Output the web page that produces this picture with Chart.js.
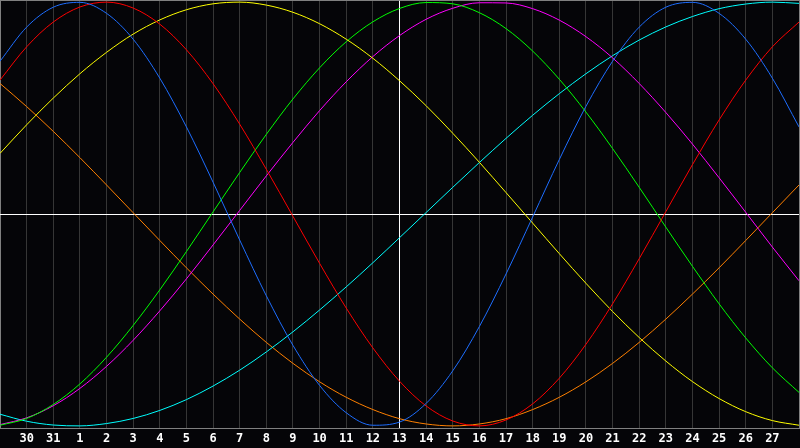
<!DOCTYPE html>
<html>
<head>
<meta charset="utf-8">
<script src="https://cdn.jsdelivr.net/npm/chart.js@4"></script>
<style>
  html, body { margin: 0; padding: 0; background: #050508; }
  #c { display: block; }
</style>
</head>
<body>
<canvas id="c" width="800" height="448"></canvas>
<script>
// Day labels (index 0 = 29th of previous month, index 30 = 28th)
const dayLabels = ["29","30","31","1","2","3","4","5","6","7","8","9","10","11","12","13",
  "14","15","16","17","18","19","20","21","22","23","24","25","26","27","28"];
const todayIndex = 15;

// Series values (percent, -100..100), one per day
const physical = [72.1,88.2,97.6,99.9,94.7,82.5,64.1,41.1,15.0,-12.3,-38.6,-62.0,-80.9,-93.8,-99.7,-98.2,-89.4,-74.0,-53.1,-28.3,-1.4,25.7,50.8,72.1,88.2,97.6,99.9,94.7,82.5,64.1,41.1];
const emotional = [63.2,78.9,90.6,97.7,100.0,97.2,89.6,77.5,61.5,42.4,21.1,-1.1,-23.3,-44.4,-63.2,-78.9,-90.6,-97.7,-100.0,-97.2,-89.6,-77.5,-61.5,-42.4,-21.1,1.1,23.3,44.4,63.2,78.9,90.6];
const aesthetic = [28.6,42.1,54.7,66.2,76.3,84.9,91.6,96.4,99.2,100.0,98.6,95.2,89.8,82.5,73.5,62.9,51.1,38.1,24.4,10.1,-4.3,-18.7,-32.7,-46.0,-58.3,-69.4,-79.1,-87.1,-93.3,-97.5,-99.7];
const intellectual = [-99.7,-96.5,-89.9,-80.2,-67.6,-52.6,-35.8,-17.7,1.0,19.6,37.6,54.3,69.0,81.3,90.7,97.0,99.8,99.2,95.0,87.5,76.9,63.6,48.1,30.9,12.6,-6.2,-24.7,-42.4,-58.5,-72.6,-84.2];
const intuition = [-99.4,-96.2,-90.5,-82.3,-71.9,-59.6,-45.7,-30.6,-14.6,1.7,18.0,33.8,48.8,62.4,74.3,84.2,91.9,97.1,99.7,99.6,96.9,91.5,83.7,73.7,61.6,47.9,33.0,17.1,0.8,-15.6,-31.5];
const spiritual = [-94.5,-97.8,-99.6,-100.0,-98.9,-96.5,-92.7,-87.6,-81.2,-73.7,-65.1,-55.6,-45.3,-34.4,-23.0,-11.2,0.7,12.6,24.3,35.7,46.6,56.8,66.2,74.7,82.1,88.3,93.2,96.9,99.1,100.0,99.4];
const awareness = [61.6,50.7,39.0,26.6,13.7,0.6,-12.5,-25.4,-37.8,-49.6,-60.6,-70.5,-79.2,-86.5,-92.3,-96.6,-99.1,-100.0,-99.1,-96.6,-92.3,-86.5,-79.2,-70.5,-60.6,-49.6,-37.8,-25.4,-12.5,0.6,13.7];

const seriesNames = ["Physical","Emotional","Aesthetic","Intellectual","Intuition","Spiritual","Awareness"];
const seriesData = [physical, emotional, aesthetic, intellectual, intuition, spiritual, awareness];
const seriesColors = ["#1e6eff","#ff0000","#ffff00","#00ff00","#ff00ff","#00ffff","#ff8000"];

const datasets = seriesData.map((vals, k) => ({
  label: seriesNames[k],
  data: vals.map((v, i) => ({ x: i, y: v })),
  borderColor: seriesColors[k],
  borderWidth: 1,
  pointRadius: 0,
  cubicInterpolationMode: 'monotone',
  fill: false
}));

new Chart(document.getElementById('c'), {
  type: 'line',
  data: { datasets },
  options: {
    responsive: false,
    animation: false,
    devicePixelRatio: 1,
    layout: { padding: { left: 0, right: 1, top: 0, bottom: 0 } },
    plugins: { legend: { display: false }, tooltip: { enabled: false } },
    scales: {
      x: {
        type: 'linear',
        min: 0,
        max: dayLabels.length - 1,
        afterFit: (s) => { s.height = 20; s.paddingLeft = 0; s.paddingRight = 0; },
        border: { display: true, color: '#808080', width: 1 },
        grid: {
          drawTicks: false,
          lineWidth: 1,
          color: (ctx) => {
            const v = ctx.tick ? ctx.tick.value : null;
            if (v === todayIndex) return '#ffffff';
            if (v === 0 || v === dayLabels.length - 1) return '#808080';
            return '#363636';
          }
        },
        ticks: {
          stepSize: 1,
          autoSkip: false,
          maxRotation: 0,
          padding: 4,
          color: '#ffffff',
          font: { family: 'DejaVu Sans Mono', size: 12, weight: 'bold' },
          callback: (v) => (v === 0 || v === dayLabels.length - 1) ? '' : dayLabels[v]
        }
      },
      y: {
        min: -101,
        max: 101,
        afterFit: (s) => { s.width = 0; },
        border: { display: false },
        grid: {
          drawTicks: false,
          lineWidth: 1,
          color: (ctx) => {
            const v = ctx.tick ? ctx.tick.value : null;
            if (v === 0) return '#ffffff';
            return '#808080';
          }
        },
        ticks: { display: false, stepSize: 101 }
      }
    }
  }
});
</script>
</body>
</html>
